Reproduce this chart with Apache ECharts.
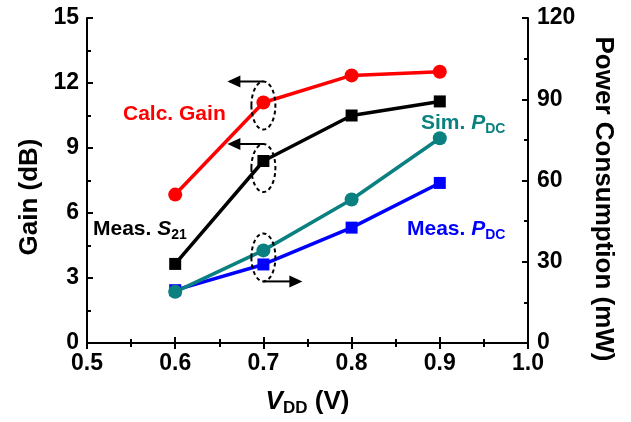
<!DOCTYPE html>
<html><head><meta charset="utf-8">
<script src="https://cdn.jsdelivr.net/npm/echarts@6/dist/echarts.min.js"></script>
<style>html,body{margin:0;padding:0;background:#fff}#c{width:631px;height:422px}</style>
</head><body><div id="c"></div>
<script>
const vdd = [0.6, 0.7, 0.8, 0.9];
const calcGain = [6.85, 11.1, 12.35, 12.52];
const measS21 = [3.65, 8.4, 10.5, 11.15];
const measPdc = [19.5, 29.0, 42.6, 59.1];
const simPdc = [18.9, 34.2, 53.0, 75.6];
const xTicks = [0.5, 0.6, 0.7, 0.8, 0.9, 1.0];
const gainTicks = [0, 3, 6, 9, 12, 15];
const pdcTicks = [0, 30, 60, 90, 120];

const FF = '"Liberation Sans", Arial, sans-serif';
const chart = echarts.init(document.getElementById('c'));
const pairs = arr => vdd.map((x, i) => [x, arr[i]]);

const axisCommon = {
  axisLine: {show: true, lineStyle: {color: '#000', width: 2}},
  axisTick: {show: true, inside: true, length: 6, lineStyle: {color: '#000', width: 2}},
  minorTick: {show: true, splitNumber: 2, length: 4, lineStyle: {color: '#000', width: 2}},
  splitLine: {show: false},
  axisLabel: {fontSize: 23, fontWeight: 'bold', color: '#000', fontFamily: FF}
};

function ser(name, data, color, symbol, size, yIdx) {
  return {name, type: 'line', data: pairs(data), yAxisIndex: yIdx, symbol, symbolSize: size,
    lineStyle: {color, width: 3.5}, itemStyle: {color}, showSymbol: true, animation: false};
}

chart.setOption({
  animation: false,
  grid: {left: 87, right: 103, top: 18, bottom: 77},
  xAxis: [
    Object.assign({}, axisCommon, {type: 'value', position: 'bottom', min: xTicks[0], max: xTicks[xTicks.length-1], interval: 0.1,
      axisLabel: Object.assign({}, axisCommon.axisLabel, {margin: 9, formatter: v => v.toFixed(1)}),
      name: '{v|V}{s|DD}{n| (V)}', nameLocation: 'middle', nameGap: 44,
      nameTextStyle: {fontFamily: FF, rich: {
        v: {fontSize: 26, fontWeight: 'bold', fontStyle: 'italic', color: '#000', fontFamily: FF, lineHeight: 30},
        s: {fontSize: 17, fontWeight: 'bold', color: '#000', fontFamily: FF, lineHeight: 30, verticalAlign: 'bottom', padding: [10, 0, 0, 0]},
        n: {fontSize: 26, fontWeight: 'bold', color: '#000', fontFamily: FF, lineHeight: 30}
      }}}),
    Object.assign({}, axisCommon, {type: 'value', position: 'top', min: xTicks[0], max: xTicks[xTicks.length-1], interval: 0.1,
      axisLabel: {show: false}})
  ],
  yAxis: [
    Object.assign({}, axisCommon, {type: 'value', position: 'left', min: gainTicks[0], max: gainTicks[gainTicks.length-1], interval: 3,
      axisLabel: Object.assign({}, axisCommon.axisLabel, {margin: 8})}),
    Object.assign({}, axisCommon, {type: 'value', position: 'right', min: pdcTicks[0], max: pdcTicks[pdcTicks.length-1], interval: 30,
      axisLabel: Object.assign({}, axisCommon.axisLabel, {margin: 9})})
  ],
  series: [
    ser('Calc. Gain', calcGain, '#ff0000', 'circle', 14, 0),
    ser('Meas. S21', measS21, '#000000', 'rect', 12, 0),
    ser('Meas. PDC', measPdc, '#0000ff', 'rect', 12, 1),
    ser('Sim. PDC', simPdc, '#0a8080', 'circle', 14, 1)
  ]
});

const pL = v => chart.convertToPixel({xAxisIndex: 0, yAxisIndex: 0}, [0.7, v]);
const pR = v => chart.convertToPixel({xAxisIndex: 0, yAxisIndex: 1}, [0.7, v]);
const a = pL(calcGain[1]), b = pL(measS21[1]), c = pR((simPdc[1] + measPdc[1]) / 2);

function ellipse(cx, cy) {
  return {type: 'ellipse', shape: {cx, cy, rx: 12, ry: 24}, z: 100,
    style: {fill: 'none', stroke: '#000', lineWidth: 2, lineDash: [4, 3]}};
}
function arrow(x1, x2, y) {
  const dir = x2 > x1 ? 1 : -1;
  return [
    {type: 'line', shape: {x1, y1: y, x2: x2 - dir * 9, y2: y}, z: 100, style: {stroke: '#000', lineWidth: 2}},
    {type: 'polygon', shape: {points: [[x2, y], [x2 - dir * 13, y - 6], [x2 - dir * 13, y + 6]]}, z: 100, style: {fill: '#000'}}
  ];
}
function label(x, y, text, rich) {
  return {type: 'text', x, y, z: 100, style: {text, rich, verticalAlign: 'middle', align: 'left'}};
}
const big = (color, italic) => ({fontSize: 21, fontWeight: 'bold', color, fill: color, fontFamily: FF, fontStyle: italic ? 'italic' : 'normal', lineHeight: 26});
const sub = color => ({fontSize: 14, fontWeight: 'bold', color, fill: color, fontFamily: FF, lineHeight: 26, verticalAlign: 'bottom', padding: [9, 0, 0, 0]});

const g = [
  ellipse(a[0], a[1] + 3), ...arrow(a[0], a[0] - 36, a[1] + 3 - 24),
  ellipse(b[0], b[1] + 7), ...arrow(b[0], b[0] - 36, b[1] + 7 - 24),
  ellipse(c[0], c[1]), ...arrow(c[0], c[0] + 39, c[1] + 24),
  label(123, 114, '{a|Calc. Gain}', {a: big('#ff0000')}),
  label(93, 229, '{a|Meas. }{i|S}{s|21}', {a: big('#000'), i: big('#000', true), s: sub('#000')}),
  label(421, 123, '{a|Sim. }{i|P}{s|DC}', {a: big('#0a8080'), i: big('#0a8080', true), s: sub('#0a8080')}),
  label(407, 229, '{a|Meas. }{i|P}{s|DC}', {a: big('#0000ff'), i: big('#0000ff', true), s: sub('#0000ff')}),
  {type: 'text', x: 30, y: 197, rotation: Math.PI / 2, style: {text: 'Gain (dB)', fontSize: 26, fontWeight: 'bold', fill: '#000', fontFamily: FF, align: 'center', verticalAlign: 'middle'}},
  {type: 'text', x: 603, y: 199, rotation: -Math.PI / 2, style: {text: 'Power Consumption (mW)', fontSize: 26, fontWeight: 'bold', fill: '#000', fontFamily: FF, align: 'center', verticalAlign: 'middle'}}
];
chart.setOption({graphic: g});
</script></body></html>
